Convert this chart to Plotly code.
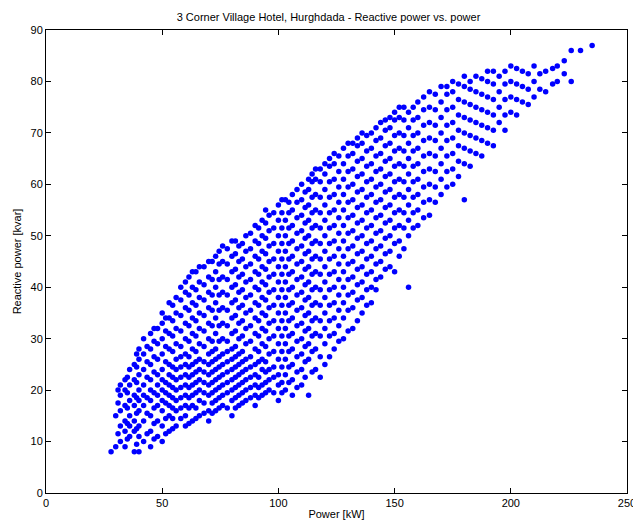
import plotly.graph_objects as go

# power [kW] columns and the reactive power [kvar] values read at each column
power_cols = [28, 30, 32, 34, 36, 38, 40, 42, 45, 48, 50, 53, 56, 60, 63, 66, 70, 73, 76, 80,
              83, 86, 90, 93, 96, 100, 103, 106, 110, 113, 116, 120, 124, 128, 132, 136, 140,
              144, 148, 152, 156, 160, 165, 170, 175, 180, 185, 190, 195, 200, 205, 210, 215,
              220, 226, 230, 235]
reactive_cols = [
    [8], [9, 15], [10, 13, 16, 19, 21], [9, 12, 14, 17, 20, 22], [11, 13, 15, 18, 21, 24],
    [8, 12, 14, 17, 19, 22, 25], [8, 11, 13, 16, 18, 20, 23, 26, 28],
    [10, 14, 17, 19, 21, 24, 27, 30], [9, 12, 15, 18, 20, 22, 25, 28, 31],
    [11, 14, 17, 19, 21, 23, 26, 29, 32], [10, 13, 16, 18, 20, 22, 24, 27, 30, 33, 35],
    [12, 15, 17, 19, 21, 23, 25, 28, 31, 34, 37], [13, 16, 18, 20, 22, 24, 26, 29, 32, 35, 38],
    [13, 15, 17, 19, 21, 23, 25, 27, 30, 33, 36, 39, 41],
    [14, 17, 19, 21, 23, 25, 28, 31, 34, 37, 40, 43],
    [15, 18, 20, 22, 24, 26, 29, 32, 35, 38, 41, 44],
    [14, 16, 19, 21, 23, 25, 27, 30, 33, 36, 39, 42, 45],
    [16, 18, 20, 22, 24, 26, 28, 31, 34, 37, 40, 43, 46],
    [17, 19, 21, 23, 25, 27, 30, 33, 36, 39, 42, 45, 48],
    [15, 18, 20, 22, 24, 26, 28, 31, 34, 37, 40, 43, 46, 49],
    [17, 19, 21, 23, 25, 27, 30, 33, 36, 39, 42, 45, 48],
    [18, 20, 22, 24, 26, 29, 32, 35, 38, 41, 44, 47, 50],
    [17, 19, 21, 23, 25, 28, 31, 34, 37, 40, 43, 46, 49, 52],
    [19, 21, 24, 26, 29, 32, 35, 38, 41, 44, 47, 50, 53],
    [20, 22, 24, 27, 30, 33, 36, 39, 42, 45, 48, 51, 54],
    [18, 21, 23, 26, 29, 32, 35, 38, 41, 44, 47, 50, 53, 56],
    [20, 23, 26, 29, 32, 35, 38, 41, 44, 47, 50, 53, 57],
    [19, 22, 25, 28, 31, 34, 37, 40, 43, 46, 49, 52, 55, 58],
    [21, 24, 27, 30, 33, 36, 39, 42, 45, 48, 51, 54, 57, 60],
    [19, 26, 29, 32, 35, 38, 41, 44, 47, 50, 53, 56, 59, 61],
    [24, 28, 31, 34, 37, 40, 43, 46, 49, 52, 55, 58, 61, 63],
    [25, 29, 32, 35, 38, 41, 44, 47, 50, 53, 56, 59, 62, 64],
    [28, 31, 34, 37, 40, 43, 46, 49, 52, 55, 58, 61, 64, 66],
    [30, 34, 37, 40, 43, 46, 49, 52, 55, 58, 61, 64, 67],
    [32, 36, 39, 42, 45, 48, 51, 54, 57, 60, 63, 66, 68],
    [35, 38, 41, 44, 47, 50, 53, 56, 59, 62, 65, 68, 70],
    [37, 40, 43, 46, 49, 52, 55, 58, 61, 64, 67, 70],
    [42, 45, 48, 51, 54, 57, 60, 63, 66, 69, 72],
    [44, 47, 50, 53, 56, 59, 62, 65, 68, 71, 73],
    [46, 49, 52, 55, 58, 61, 64, 67, 70, 73, 75],
    [40, 50, 53, 56, 59, 62, 65, 68, 71, 74],
    [52, 55, 58, 61, 64, 67, 70, 73, 76],
    [54, 57, 60, 63, 66, 69, 72, 75, 78],
    [58, 61, 64, 67, 70, 73, 76, 79],
    [60, 63, 66, 69, 72, 75, 78, 80],
    [57, 64, 67, 70, 73, 76, 79, 81],
    [66, 69, 72, 75, 78, 81],
    [68, 71, 74, 77, 80, 82],
    [72, 75, 78, 81],
    [74, 77, 80, 83],
    [76, 79, 82],
    [77, 80, 83],
    [78, 82],
    [80, 83],
    [80, 86],
    [86],
    [87],
]

# second pass of readings between the columns above
power_mid = [31, 35, 39, 43.5, 46.5, 51.5, 54.5, 58, 61.5, 64.5, 68, 71.5, 74.5, 78, 81.5,
             84.5, 88, 91.5, 94.5, 98, 101.5, 104.5, 108, 111.5, 114.5, 118, 122, 126, 130,
             134, 138, 142, 146, 150, 154, 158, 162.5, 167.5, 172.5, 177.5, 182.5, 187.5,
             192.5, 197.5, 202.5, 207.5, 212.5, 218, 223]
reactive_mid = [
    [11.5, 17.5, 20], [10.5, 13.5, 16.5, 19.5, 22.5], [9.5, 12.5, 15.5, 18.5, 21.5, 24.5, 27],
    [11.5, 15.5, 18.5, 22.5, 25.5, 28.5], [10.5, 13.5, 16.5, 19.5, 23.5, 26.5, 29.5, 32],
    [11.5, 14.5, 17.5, 19.5, 21.5, 25.5, 28.5, 31.5, 34],
    [12.5, 14.5, 16.5, 18.5, 20.5, 22.5, 24.5, 27.5, 30.5, 33.5, 36.5],
    [14.5, 16.5, 18.5, 20.5, 22.5, 24.5, 26.5, 28.5, 31.5, 34.5, 37.5, 40],
    [13.5, 16.5, 18.5, 20.5, 22.5, 24.5, 26.5, 29.5, 32.5, 35.5, 38.5, 42],
    [14.5, 16.5, 19.5, 21.5, 23.5, 25.5, 27.5, 30.5, 33.5, 36.5, 39.5, 43],
    [15.5, 17.5, 19.5, 21.5, 23.5, 25.5, 28.5, 31.5, 34.5, 37.5, 40.5, 44],
    [15.5, 17.5, 19.5, 21.5, 23.5, 25.5, 27.5, 29.5, 32.5, 35.5, 38.5, 41.5, 45],
    [16.5, 18.5, 20.5, 22.5, 24.5, 26.5, 29.5, 32.5, 35.5, 38.5, 41.5, 44.5, 47],
    [16.5, 19.5, 21.5, 23.5, 25.5, 27.5, 29.5, 32.5, 35.5, 38.5, 41.5, 44.5, 47.5],
    [16.5, 18.5, 20.5, 22.5, 24.5, 26.5, 28.5, 31.5, 34.5, 37.5, 40.5, 43.5, 46.5, 49],
    [17.5, 19.5, 21.5, 23.5, 25.5, 27.5, 30.5, 33.5, 36.5, 39.5, 42.5, 45.5, 48.5],
    [18.5, 20.5, 22.5, 24.5, 26.5, 29.5, 32.5, 35.5, 38.5, 41.5, 44.5, 47.5, 50.5],
    [18.5, 20.5, 22.5, 25.5, 27.5, 30.5, 33.5, 36.5, 39.5, 42.5, 45.5, 48.5, 51.5],
    [19.5, 21.5, 23.5, 25.5, 28.5, 31.5, 34.5, 37.5, 40.5, 43.5, 46.5, 49.5, 52.5, 55],
    [19.5, 22.5, 24.5, 27.5, 30.5, 33.5, 36.5, 39.5, 42.5, 45.5, 48.5, 51.5, 54.5],
    [19.5, 21.5, 24.5, 27.5, 30.5, 33.5, 36.5, 39.5, 42.5, 45.5, 48.5, 51.5, 54.5, 57],
    [21.5, 24.5, 27.5, 30.5, 33.5, 36.5, 39.5, 42.5, 45.5, 48.5, 51.5, 54.5, 56.5],
    [20.5, 23.5, 26.5, 29.5, 32.5, 35.5, 38.5, 41.5, 44.5, 47.5, 50.5, 53.5, 56.5, 59],
    [22.5, 25.5, 28.5, 31.5, 34.5, 37.5, 40.5, 43.5, 46.5, 49.5, 52.5, 55.5, 58.5],
    [23.5, 27.5, 30.5, 33.5, 36.5, 39.5, 42.5, 45.5, 48.5, 51.5, 54.5, 57.5, 60.5, 62],
    [22.5, 26.5, 30.5, 33.5, 36.5, 39.5, 42.5, 45.5, 48.5, 51.5, 54.5, 57.5, 60.5, 63],
    [26.5, 30.5, 33.5, 36.5, 39.5, 42.5, 45.5, 48.5, 51.5, 54.5, 57.5, 60.5, 63.5, 65],
    [29.5, 32.5, 35.5, 38.5, 41.5, 44.5, 47.5, 50.5, 53.5, 56.5, 59.5, 62.5, 65.5],
    [31.5, 35.5, 38.5, 41.5, 44.5, 47.5, 50.5, 53.5, 56.5, 59.5, 62.5, 65.5, 68],
    [33.5, 37.5, 40.5, 43.5, 46.5, 49.5, 52.5, 55.5, 58.5, 61.5, 64.5, 67.5, 69],
    [36.5, 39.5, 42.5, 45.5, 48.5, 51.5, 54.5, 57.5, 60.5, 63.5, 66.5, 69.5],
    [39.5, 41.5, 44.5, 47.5, 50.5, 53.5, 56.5, 59.5, 62.5, 65.5, 68.5, 71],
    [43.5, 46.5, 49.5, 52.5, 55.5, 58.5, 61.5, 64.5, 67.5, 70.5, 72.5],
    [43, 48.5, 51.5, 54.5, 57.5, 60.5, 63.5, 66.5, 69.5, 72.5, 74],
    [47.5, 51.5, 54.5, 57.5, 60.5, 63.5, 66.5, 69.5, 72.5, 75],
    [51.5, 54.5, 57.5, 60.5, 63.5, 66.5, 69.5, 72.5, 75],
    [53.5, 56.5, 59.5, 62.5, 65.5, 68.5, 71.5, 74.5, 77],
    [56.5, 59.5, 62.5, 65.5, 68.5, 71.5, 74.5, 77.5],
    [59.5, 62.5, 65.5, 68.5, 71.5, 74.5, 77.5, 79],
    [61.5, 64.5, 67.5, 70.5, 73.5, 76.5, 79.5],
    [63.5, 66.5, 69.5, 72.5, 75.5, 78.5, 80],
    [65.5, 68.5, 71.5, 74.5, 77.5, 80.5],
    [67.5, 70.5, 73.5, 76.5, 79.5, 82],
    [70.5, 73.5, 76.5, 79.5, 82],
    [73.5, 76.5, 79.5, 82.5],
    [75.5, 78.5, 81.5],
    [78.5, 81.5],
    [79.5, 82.5],
    [81.5, 84],
]

x_ticks = [0, 50, 100, 150, 200, 250]
y_ticks = [0, 10, 20, 30, 40, 50, 60, 70, 80, 90]

power = []
reactive = []
for cols, vals in [(power_cols, reactive_cols), (power_mid, reactive_mid)]:
    for p, ys in zip(cols, vals):
        for y in ys:
            power.append(p)
            reactive.append(y)

fig = go.Figure(go.Scatter(x=power, y=reactive, mode="markers",
                           marker=dict(color="#0000ff", size=5.5)))

axis = dict(showgrid=False, zeroline=False, showline=True, linecolor="black", linewidth=1,
            mirror="ticks", ticks="inside", ticklen=5, tickcolor="black", automargin=False,
            tickfont=dict(size=11, color="black"))
fig.update_xaxes(range=[0, 250], tickvals=x_ticks,
                 title=dict(text="Power [kW]", font=dict(size=11), standoff=2), **axis)
fig.update_yaxes(range=[0, 90], tickvals=y_ticks,
                 title=dict(text="Reactive power [kvar]", font=dict(size=11), standoff=6), **axis)
fig.update_layout(
    width=641, height=529,
    margin=dict(l=38, r=22, t=22, b=44),
    plot_bgcolor="white", paper_bgcolor="white",
    font=dict(family="Liberation Sans, Arial", color="black"),
    title=dict(text="3 Corner Village Hotel, Hurghdada - Reactive power vs. power",
               x=0.5, y=0.99, xanchor="center", font=dict(size=11)),
    showlegend=False,
)
fig.write_html("out.html")
